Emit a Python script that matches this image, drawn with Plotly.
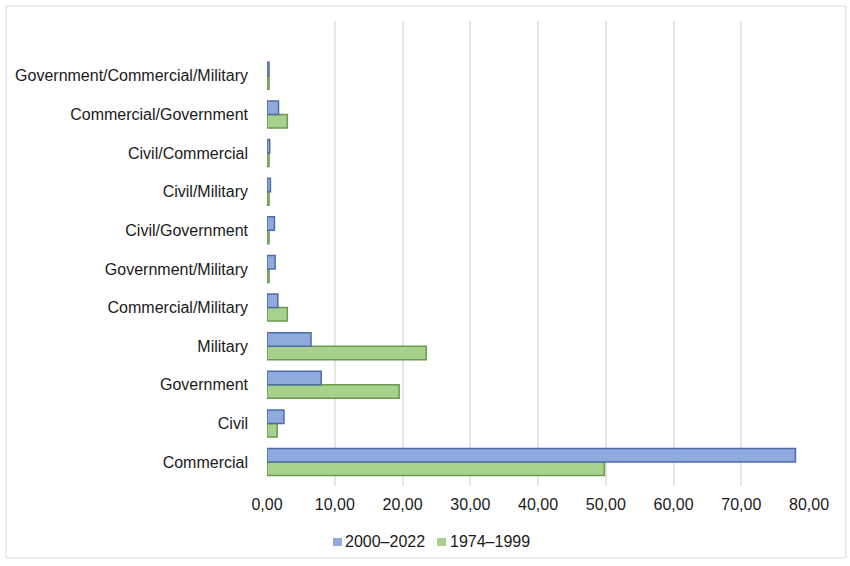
import plotly.graph_objects as go

# Categories listed bottom to top
categories = [
    "Commercial",
    "Civil",
    "Government",
    "Military",
    "Commercial/Military",
    "Government/Military",
    "Civil/Government",
    "Civil/Military",
    "Civil/Commercial",
    "Commercial/Government",
    "Government/Commercial/Military",
]
recent = [78.0, 2.5, 8.0, 6.5, 1.6, 1.2, 1.1, 0.5, 0.4, 1.7, 0.3]      # 2000–2022
earlier = [49.8, 1.5, 19.5, 23.5, 3.0, 0.3, 0.3, 0.3, 0.3, 3.0, 0.3]   # 1974–1999
series_names = ["2000–2022", "1974–1999"]
x_ticks = [0, 10, 20, 30, 40, 50, 60, 70, 80]

BLUE, BLUE_EDGE = "#8FAADC", "#4E6DA6"
GREEN, GREEN_EDGE = "#A9D18E", "#6A9A4A"
FONT = "Liberation Sans, Arial, sans-serif"

fig = go.Figure()
# green trace added first so it sits below the blue one in each group
fig.add_trace(go.Bar(
    y=categories, x=earlier, orientation="h", name=series_names[1],
    marker=dict(color=GREEN, line=dict(color=GREEN_EDGE, width=1.5)),
))
fig.add_trace(go.Bar(
    y=categories, x=recent, orientation="h", name=series_names[0],
    marker=dict(color=BLUE, line=dict(color=BLUE_EDGE, width=1.5)),
))

# outer frame around the whole chart
fig.add_shape(
    type="rect", xref="paper", yref="paper",
    x0=-0.4815, x1=1.068, y0=-0.1548, y1=1.0323,
    line=dict(color="#D9D9D9", width=1), fillcolor="rgba(0,0,0,0)",
    layer="below",
)

# compact legend: small swatch right next to each label
legend_items = [
    (series_names[0], BLUE, 0.1218, 0.1439),
    (series_names[1], GREEN, 0.3137, 0.3376),
]
for name, color, sx, tx in legend_items:
    fig.add_shape(
        type="rect", xref="paper", yref="paper",
        x0=sx, x1=sx + 0.0166, y0=-0.129, y1=-0.1118,
        line=dict(width=0), fillcolor=color,
    )
    fig.add_annotation(
        text=name, xref="paper", yref="paper", x=tx - 0.003, y=-0.1204,
        xanchor="left", yanchor="middle", showarrow=False,
        font=dict(family=FONT, size=16, color="#1A1A1A"),
    )

fig.update_layout(
    width=850, height=566,
    margin=dict(l=267, r=41, t=21, b=80),
    paper_bgcolor="white", plot_bgcolor="white",
    barmode="group", bargap=0.3, bargroupgap=0,
    separators=",.",
    font=dict(family=FONT, size=16, color="#1A1A1A"),
    showlegend=False,
    xaxis=dict(
        range=[0, 80], tickvals=x_ticks, tickformat=".2f",
        showgrid=True, gridcolor="#E6E6E6", gridwidth=1.5,
        zeroline=False, showline=False, ticks="",
        ticklabelstandoff=7,
    ),
    yaxis=dict(
        type="category", categoryorder="array", categoryarray=categories,
        range=[-0.62, 11.42], showgrid=False, zeroline=False,
        showline=False, ticks="", ticklabelstandoff=18,
    ),
)

fig.write_html("out.html")
